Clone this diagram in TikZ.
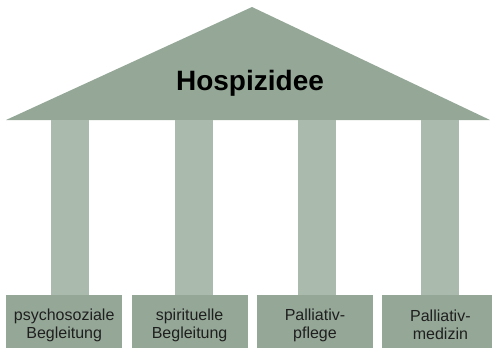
\documentclass[tikz,border=0pt]{standalone}
\usepackage{fontspec}
\setmainfont{Liberation Sans}
\usetikzlibrary{positioning}

\definecolor{roofgreen}{RGB}{149,168,151}
\definecolor{pillargreen}{RGB}{170,187,173}

\begin{document}
\begin{tikzpicture}[
    x=1pt, y=-1pt,
    base/.style={fill=roofgreen, minimum width=116pt, minimum height=53pt, inner sep=0pt, text height=36pt, align=center, font=\fontsize{16}{18}\selectfont, text=black!88},
    pillar/.style={fill=pillargreen},
    node distance=9pt
]

\clip (0,0) rectangle (492,349);

% Roof
\fill[roofgreen] (6,120) -- (252,7) -- (490,120) -- cycle;
\node[font=\bfseries\fontsize{28}{30}\selectfont] (title) at (250,83) {Hospizidee};

% Pillars
\foreach \x in {51,175,298,421}
    \fill[pillar] (\x,120) rectangle ++(38,175);

% Bases
\node[base, anchor=north west] (base1) at (6,295) {psychosoziale\\Begleitung};
\node[base, right=of base1] (base2) {spirituelle\\Begleitung};
\node[base, right=of base2] (base3) {Palliativ-\\pflege};
\node[base, right=of base3] (base4) {Palliativ-\\medizin};

\end{tikzpicture}
\end{document}
